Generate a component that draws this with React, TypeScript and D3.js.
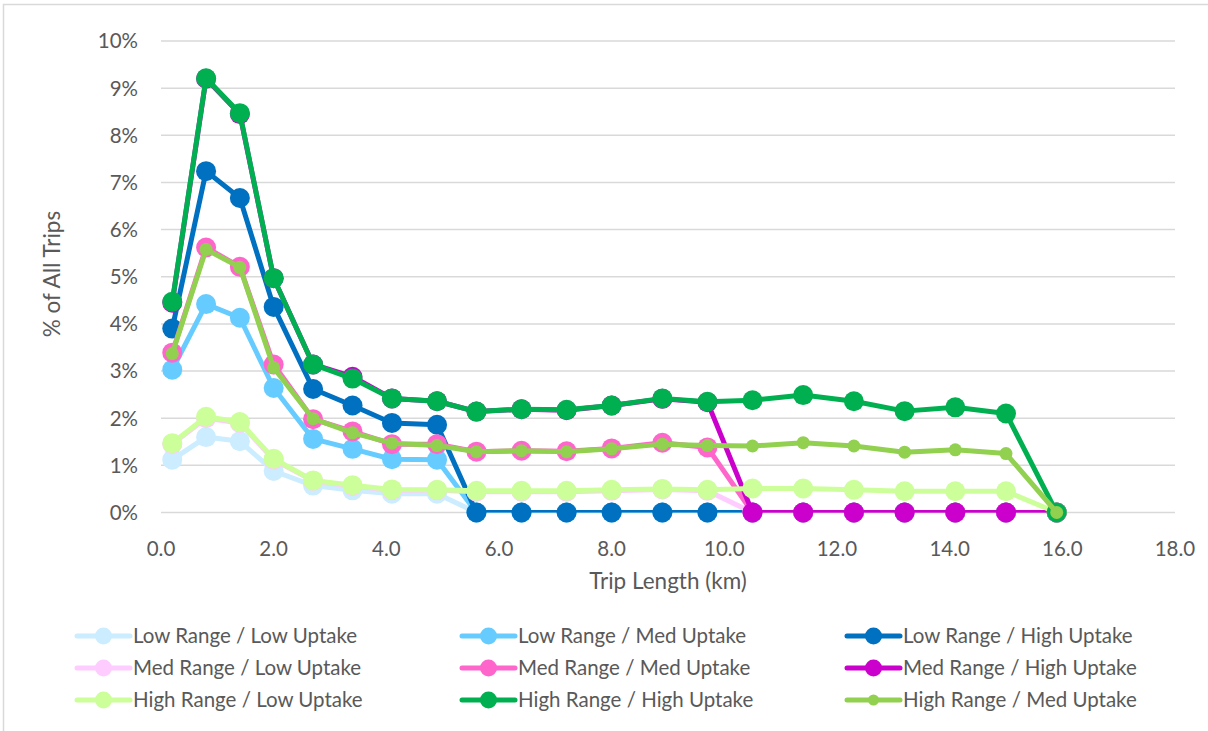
import React from "react";
import * as d3 from "d3";

const tripLength = [0.2, 0.8, 1.4, 2.0, 2.7, 3.4, 4.1, 4.9, 5.6, 6.4, 7.2, 8.0, 8.9, 9.7, 10.5, 11.4, 12.3, 13.2, 14.1, 15.0, 15.9];

const lowLow = [1.12, 1.6, 1.51, 0.88, 0.57, 0.47, 0.4, 0.4, 0, 0, 0, 0, 0, 0, 0, 0, 0, 0, 0, 0, 0];
const lowMed = [3.03, 4.42, 4.13, 2.64, 1.56, 1.35, 1.13, 1.12, 0, 0, 0, 0, 0, 0, 0, 0, 0, 0, 0, 0, 0];
const lowHigh = [3.9, 7.24, 6.67, 4.36, 2.62, 2.27, 1.9, 1.86, 0, 0, 0, 0, 0, 0, 0, 0, 0, 0, 0, 0, 0];
const medLow = [1.45, 2.0, 1.9, 1.12, 0.67, 0.56, 0.47, 0.47, 0.44, 0.44, 0.44, 0.46, 0.49, 0.46, 0, 0, 0, 0, 0, 0, 0];
const medMed = [3.39, 5.62, 5.21, 3.14, 1.98, 1.72, 1.45, 1.45, 1.29, 1.31, 1.3, 1.36, 1.48, 1.38, 0, 0, 0, 0, 0, 0, 0];
const medHigh = [4.45, 9.2, 8.45, 4.97, 3.14, 2.88, 2.42, 2.36, 2.14, 2.19, 2.17, 2.27, 2.41, 2.34, 0, 0, 0, 0, 0, 0, 0];
const highLow = [1.47, 2.03, 1.92, 1.14, 0.68, 0.58, 0.49, 0.48, 0.46, 0.46, 0.46, 0.48, 0.5, 0.48, 0.51, 0.51, 0.48, 0.45, 0.45, 0.45, 0];
const highHigh = [4.47, 9.21, 8.47, 4.97, 3.14, 2.84, 2.42, 2.36, 2.14, 2.19, 2.18, 2.27, 2.42, 2.35, 2.38, 2.49, 2.36, 2.15, 2.23, 2.1, 0];
const highMed = [3.37, 5.58, 5.2, 3.07, 1.99, 1.69, 1.47, 1.42, 1.29, 1.31, 1.29, 1.35, 1.45, 1.42, 1.41, 1.48, 1.41, 1.28, 1.33, 1.25, 0];

const seriesNames = [
  "Low Range / Low Uptake",
  "Low Range / Med Uptake",
  "Low Range / High Uptake",
  "Med Range / Low Uptake",
  "Med Range / Med Uptake",
  "Med Range / High Uptake",
  "High Range / Low Uptake",
  "High Range / High Uptake",
  "High Range / Med Uptake",
];
const seriesValues = [lowLow, lowMed, lowHigh, medLow, medMed, medHigh, highLow, highHigh, highMed];
const seriesColors = ["#CCECFF", "#66CCFF", "#0070C0", "#FFCCFF", "#FF66CC", "#CC00CC", "#CCFF99", "#00B050", "#92D050"];
const smallMarker = [false, false, false, false, false, false, false, false, true];

const yTicks = [0, 1, 2, 3, 4, 5, 6, 7, 8, 9, 10];
const xTicks = [0, 2, 4, 6, 8, 10, 12, 14, 16, 18];

const W = 1208;
const H = 731;
const FONT = "Lato, 'Open Sans', sans-serif";
const TEXT = "#595959";

export default function App() {
  const x = d3.scaleLinear().domain([0, 18]).range([161, 1175]);
  const y = d3.scaleLinear().domain([0, 10]).range([512.5, 41]);
  const line = d3
    .line<number>()
    .x((_, i) => x(tripLength[i]))
    .y((v) => y(v));

  const legendCols = [77, 462, 847];
  const legendRows = [636, 668, 700];

  return (
    <svg
      width={W}
      height={H}
      style={{ position: "absolute", left: 0, top: 0, background: "#fff" }}
      fontFamily={FONT}
    >
      <defs>
        <clipPath id="plotClip">
          <rect x={x(0)} y={y(10) - 5} width={x(18) - x(0)} height={y(0) - y(10) + 5} />
        </clipPath>
      </defs>
      <rect x={3.5} y={4.5} width={W} height={H} fill="#fff" stroke="#D9D9D9" strokeWidth={1.5} />
      {yTicks.map((t) => (
        <line key={"g" + t} x1={x(0)} x2={x(18)} y1={y(t)} y2={y(t)} stroke="#D9D9D9" strokeWidth={1.5} />
      ))}
      {yTicks.map((t) => (
        <text key={"yl" + t} x={138} y={y(t)} dy="0.36em" textAnchor="end" fontSize={20.5} fill={TEXT}>
          {t + "%"}
        </text>
      ))}
      {xTicks.map((t) => (
        <text key={"xl" + t} x={x(t)} y={549} dy="0.36em" textAnchor="middle" fontSize={20.5} fill={TEXT}>
          {d3.format(".1f")(t)}
        </text>
      ))}
      <text x={668} y={581} dy="0.36em" textAnchor="middle" fontSize={22.5} fill={TEXT}>
        Trip Length (km)
      </text>
      <text
        transform={`translate(52,${274}) rotate(-90)`}
        dy="0.36em"
        textAnchor="middle"
        fontSize={22.5}
        fill={TEXT}
      >
        % of All Trips
      </text>
      {seriesValues.map((vals, si) => (
        <g key={"s" + si}>
          <path
            d={line(vals) || ""}
            fill="none"
            stroke={seriesColors[si]}
            strokeWidth={5}
            strokeLinejoin="round"
            strokeLinecap="round"
            clipPath="url(#plotClip)"
          />
          {vals.map((v, i) => (
            <circle
              key={i}
              cx={x(tripLength[i])}
              cy={y(v)}
              r={smallMarker[si] ? 6.5 : 10}
              fill={seriesColors[si]}
            />
          ))}
        </g>
      ))}
      {seriesNames.map((name, si) => {
        const cx = legendCols[si % 3];
        const cy = legendRows[Math.floor(si / 3)];
        return (
          <g key={"l" + si}>
            <line x1={cx} x2={cx + 53} y1={cy} y2={cy} stroke={seriesColors[si]} strokeWidth={5} strokeLinecap="round" />
            <circle cx={cx + 26.5} cy={cy} r={smallMarker[si] ? 5.5 : 8.5} fill={seriesColors[si]} />
            <text x={cx + 56} y={cy} dy="0.36em" fontSize={20.5} fill={TEXT}>
              {name}
            </text>
          </g>
        );
      })}
    </svg>
  );
}
